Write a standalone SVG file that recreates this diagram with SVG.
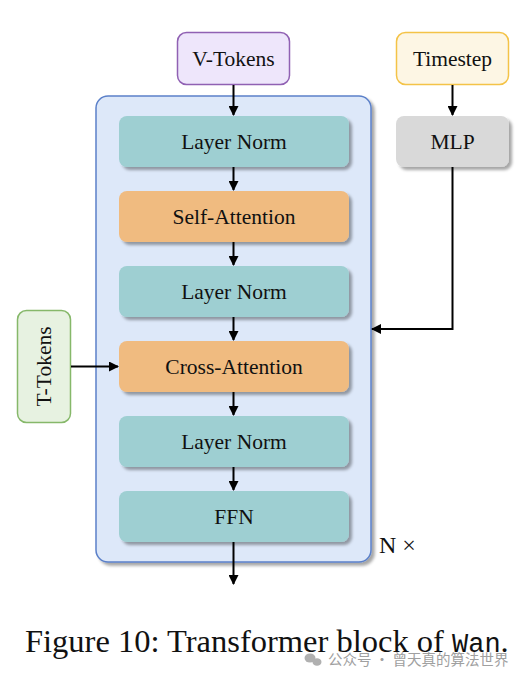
<svg xmlns="http://www.w3.org/2000/svg" width="530" height="680" viewBox="0 0 530 680">
<defs>
<filter id="sh" x="-10%" y="-10%" width="130%" height="140%">
<feDropShadow dx="3" dy="3" stdDeviation="1.8" flood-color="#000" flood-opacity="0.35"/>
</filter>
<marker id="ah" markerWidth="10" markerHeight="10" refX="9" refY="5" orient="auto" markerUnits="userSpaceOnUse">
<path d="M0,0 L10,5 L0,10 Z" fill="#000"/>
</marker>
</defs>
<style>
text{font-family:"Liberation Serif","Times New Roman",serif;fill:#111;}
.lbl{font-size:21.5px;text-anchor:middle;dominant-baseline:central;}
.teal{fill:#9ECFD2;}
.orange{fill:#F0BB80;}
.conn{stroke:#000;stroke-width:2;fill:none;marker-end:url(#ah);}
</style>
<rect width="530" height="680" fill="#fff"/>
<g id="block">
<rect x="96" y="96" width="275" height="466" rx="12" fill="#DDE8F9" stroke="#5B80C9" stroke-width="1.5" filter="url(#sh)"/>
<text x="379" y="545" font-size="24" dominant-baseline="central">N ×</text>
</g>
<g id="vtokens">
<rect x="177.5" y="32.5" width="112" height="52" rx="9" fill="#EEE6FB" stroke="#9061B3" stroke-width="1.5"/>
<text class="lbl" x="233.5" y="59">V-Tokens</text>
</g>
<g id="timestep">
<rect x="396.5" y="32.5" width="112" height="52" rx="9" fill="#FDF6E4" stroke="#F4C347" stroke-width="1.5"/>
<text class="lbl" x="452.5" y="59">Timestep</text>
</g>
<g id="mlp">
<rect x="396" y="116" width="113" height="51" rx="8" fill="#D9D9D9" filter="url(#sh)"/>
<text class="lbl" x="452.5" y="142">MLP</text>
</g>
<g id="ttokens">
<rect x="17.5" y="310.5" width="53" height="112" rx="9" fill="#E7F2E1" stroke="#86B86A" stroke-width="1.5"/>
<text class="lbl" transform="translate(44,366.5) rotate(-90)" x="0" y="0">T-Tokens</text>
</g>
<g id="ln1">
<rect class="teal" x="119" y="116" width="230" height="51" rx="8" filter="url(#sh)"/>
<text class="lbl" x="234" y="142">Layer Norm</text>
</g>
<g id="selfattn">
<rect class="orange" x="119" y="191" width="230" height="51" rx="8" filter="url(#sh)"/>
<text class="lbl" x="234" y="217">Self-Attention</text>
</g>
<g id="ln2">
<rect class="teal" x="119" y="266" width="230" height="51" rx="8" filter="url(#sh)"/>
<text class="lbl" x="234" y="292">Layer Norm</text>
</g>
<g id="crossattn">
<rect class="orange" x="119" y="341" width="230" height="51" rx="8" filter="url(#sh)"/>
<text class="lbl" x="234" y="367">Cross-Attention</text>
</g>
<g id="ln3">
<rect class="teal" x="119" y="416" width="230" height="51" rx="8" filter="url(#sh)"/>
<text class="lbl" x="234" y="442">Layer Norm</text>
</g>
<g id="ffn">
<rect class="teal" x="119" y="491" width="230" height="51" rx="8" filter="url(#sh)"/>
<text class="lbl" x="234" y="517">FFN</text>
</g>
<g id="connectors">
<line class="conn" x1="233.5" y1="85" x2="233.5" y2="115"/>
<line class="conn" x1="233.5" y1="167" x2="233.5" y2="190"/>
<line class="conn" x1="233.5" y1="242" x2="233.5" y2="265"/>
<line class="conn" x1="233.5" y1="317" x2="233.5" y2="340"/>
<line class="conn" x1="233.5" y1="392" x2="233.5" y2="415"/>
<line class="conn" x1="233.5" y1="467" x2="233.5" y2="490"/>
<line class="conn" x1="233.5" y1="542" x2="233.5" y2="584"/>
<line class="conn" x1="452.5" y1="85" x2="452.5" y2="115"/>
<polyline class="conn" points="452.5,167 452.5,329 372,329"/>
<line class="conn" x1="71" y1="366.5" x2="118" y2="366.5"/>
</g>
<g id="caption">
<text x="25" y="652" font-size="32.5">Figure 10: Transformer block of <tspan font-family="'Liberation Mono','Courier New',monospace" font-size="27">Wan</tspan>.</text>
</g>
<g id="watermark">
<ellipse cx="310" cy="658" rx="5.5" ry="4.5" fill="#b0b0b0"/>
<ellipse cx="317" cy="662" rx="4.5" ry="3.8" fill="#b0b0b0"/>
<text x="328" y="665" font-size="14.5" style="fill:#a0a0a0;font-family:'Noto Sans CJK SC','Noto Sans',sans-serif;">公众号 · 曾天真的算法世界</text>
</g>
</svg>
